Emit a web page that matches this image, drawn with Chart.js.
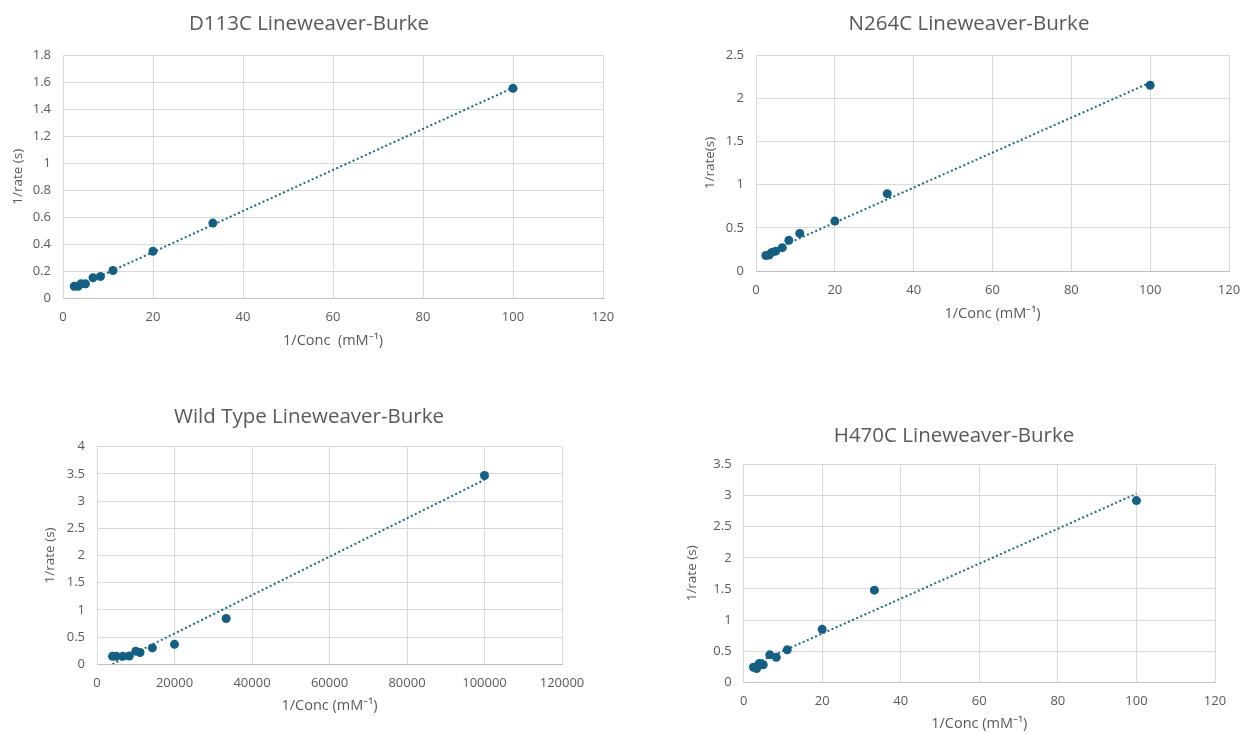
<!DOCTYPE html>
<html>
<head>
<meta charset="utf-8">
<script src="https://cdn.jsdelivr.net/npm/chart.js@4.4.1/dist/chart.umd.min.js"></script>
<style>
  body { margin: 0; background: #fff; width: 1246px; height: 734px; overflow: hidden; }
  canvas { position: absolute; }
</style>
</head>
<body>
<canvas id="c1" width="620" height="360" style="left:0px;top:0px"></canvas>
<canvas id="c2" width="556" height="330" style="left:690px;top:0px"></canvas>
<canvas id="c3" width="620" height="344" style="left:0px;top:390px"></canvas>
<canvas id="c4" width="566" height="324" style="left:680px;top:410px"></canvas>
<script>
// 1/[S] values (mM^-1) used by the three mutants
const concInv = [2.5, 3.33, 4, 5, 6.67, 8.33, 11.1, 20, 33.3, 100];
// wild type was run at much lower concentrations
const wtConcInv = [4000, 5000, 6667, 8333, 10000, 11111, 14286, 20000, 33333, 100000];

// 1/rate (s)
const d113cRate = [0.087, 0.087, 0.105, 0.105, 0.15, 0.16, 0.204, 0.347, 0.556, 1.556];
const n264cRate = [0.18, 0.185, 0.215, 0.23, 0.27, 0.355, 0.435, 0.578, 0.895, 2.15];
const wtRate = [0.145, 0.145, 0.145, 0.15, 0.24, 0.215, 0.30, 0.365, 0.84, 3.47];
const h470cRate = [0.24, 0.22, 0.30, 0.28, 0.44, 0.40, 0.52, 0.85, 1.48, 2.92];

// linear trendline end points (as drawn)
const d113cTrendX = [2.5, 100], d113cTrendY = [0.074, 1.56];
const n264cTrendX = [2.5, 100], n264cTrendY = [0.206, 2.18];
const wtTrendX = [4000, 100000], wtTrendY = [0.0, 3.39];
const h470cTrendX = [2.5, 100], h470cTrendY = [0.29, 3.03];

// axis ranges: [min, max, step]
const mutantXAxis = [0, 120, 20];
const wtXAxis = [0, 120000, 20000];
const d113cYAxis = [0, 1.8, 0.2];
const n264cYAxis = [0, 2.5, 0.5];
const wtYAxis = [0, 4, 0.5];
const h470cYAxis = [0, 3.5, 0.5];

const FONT = "'Open Sans', 'Liberation Sans', sans-serif";
const TEXT = '#595959';
const MARK = '#156082';

function toPoints(xs, ys) {
  var pts = [];
  for (var i = 0; i < xs.length; i++) pts.push({x: xs[i], y: ys[i]});
  return pts;
}

function fmt(v) {
  return String(Math.round(v * 1000) / 1000);
}

function makeChart(id, title, xTitle, yTitle, xs, ys, tx, ty, xAxis, yAxis, lay) {
  new Chart(document.getElementById(id), {
    type: 'scatter',
    data: {
      datasets: [
        {
          data: toPoints(xs, ys),
          backgroundColor: MARK,
          borderColor: MARK,
          borderWidth: 0,
          pointRadius: 4.5,
          order: 0
        },
        {
          data: toPoints(tx, ty),
          showLine: true,
          borderColor: '#1b6889',
          borderWidth: 2,
          borderDash: [2, 2.5],
          pointRadius: 0,
          order: 1
        }
      ]
    },
    options: {
      responsive: false,
      animation: false,
      layout: { padding: { left: lay.pl, right: lay.pr, top: 0, bottom: 0 } },
      plugins: {
        legend: { display: false },
        tooltip: { enabled: false },
        title: {
          display: true,
          text: title,
          color: TEXT,
          font: { family: FONT, size: 20.5, weight: 'normal' },
          padding: { top: lay.tTop, bottom: lay.tBot }
        }
      },
      scales: {
        x: {
          type: 'linear',
          min: xAxis[0], max: xAxis[1],
          ticks: { stepSize: xAxis[2], color: TEXT, font: { family: FONT, size: 13 }, padding: 11.5, callback: fmt },
          grid: { color: '#D9D9D9', drawTicks: false },
          border: { color: '#BFBFBF' },
          title: { display: true, text: xTitle, color: TEXT, font: { family: FONT, size: 14.5 }, padding: { top: 0, bottom: lay.xtPad } },
          afterFit: function (s) {
            s.height = lay.xh;
            // end labels may hang into the side margins
            s.paddingLeft = 0;
            s.paddingRight = 0;
          }
        },
        y: {
          min: yAxis[0], max: yAxis[1],
          ticks: { stepSize: yAxis[2], color: TEXT, font: { family: FONT, size: 13 }, padding: 12, callback: fmt },
          grid: { color: '#D9D9D9', drawTicks: false },
          border: { color: '#D9D9D9' },
          title: { display: true, text: yTitle, color: TEXT, font: { family: FONT, size: 13.5 }, padding: { top: lay.ytPad, bottom: 0 } },
          afterFit: function (s) { s.width = lay.yw; }
        }
      }
    }
  });
}

makeChart('c1', 'D113C Lineweaver-Burke', '1/Conc  (mM\u207B\u00B9)', '1/rate (s)',
  concInv, d113cRate, d113cTrendX, d113cTrendY, mutantXAxis, d113cYAxis,
  { pl: 15, pr: 17, tTop: 11.7, tBot: 19.2, yw: 48, xh: 62, ytPad: -5.1, xtPad: 10.3 });

makeChart('c2', 'N264C Lineweaver-Burke', '1/Conc (mM\u207B\u00B9)', '1/rate(s)',
  concInv, n264cRate, n264cTrendX, n264cTrendY, mutantXAxis, n264cYAxis,
  { pl: 19, pr: 17, tTop: 11.4, tBot: 19, yw: 47, xh: 59, ytPad: -7.1, xtPad: 7.3 });

makeChart('c3', 'Wild Type Lineweaver-Burke', '1/Conc (mM\u207B\u00B9)', '1/rate (s)',
  wtConcInv, wtRate, wtTrendX, wtTrendY, wtXAxis, wtYAxis,
  { pl: 56, pr: 58, tTop: 14.7, tBot: 17.4, yw: 41, xh: 69.8, ytPad: -14.1, xtPad: 19.3 });

makeChart('c4', 'H470C Lineweaver-Burke', '1/Conc (mM\u207B\u00B9)', '1/rate (s)',
  concInv, h470cRate, h470cTrendX, h470cTrendY, mutantXAxis, h470cYAxis,
  { pl: 13, pr: 31, tTop: 13.7, tBot: 16.2, yw: 50.6, xh: 51.8, ytPad: -9.1, xtPad: 1.3 });
</script>
</body>
</html>
